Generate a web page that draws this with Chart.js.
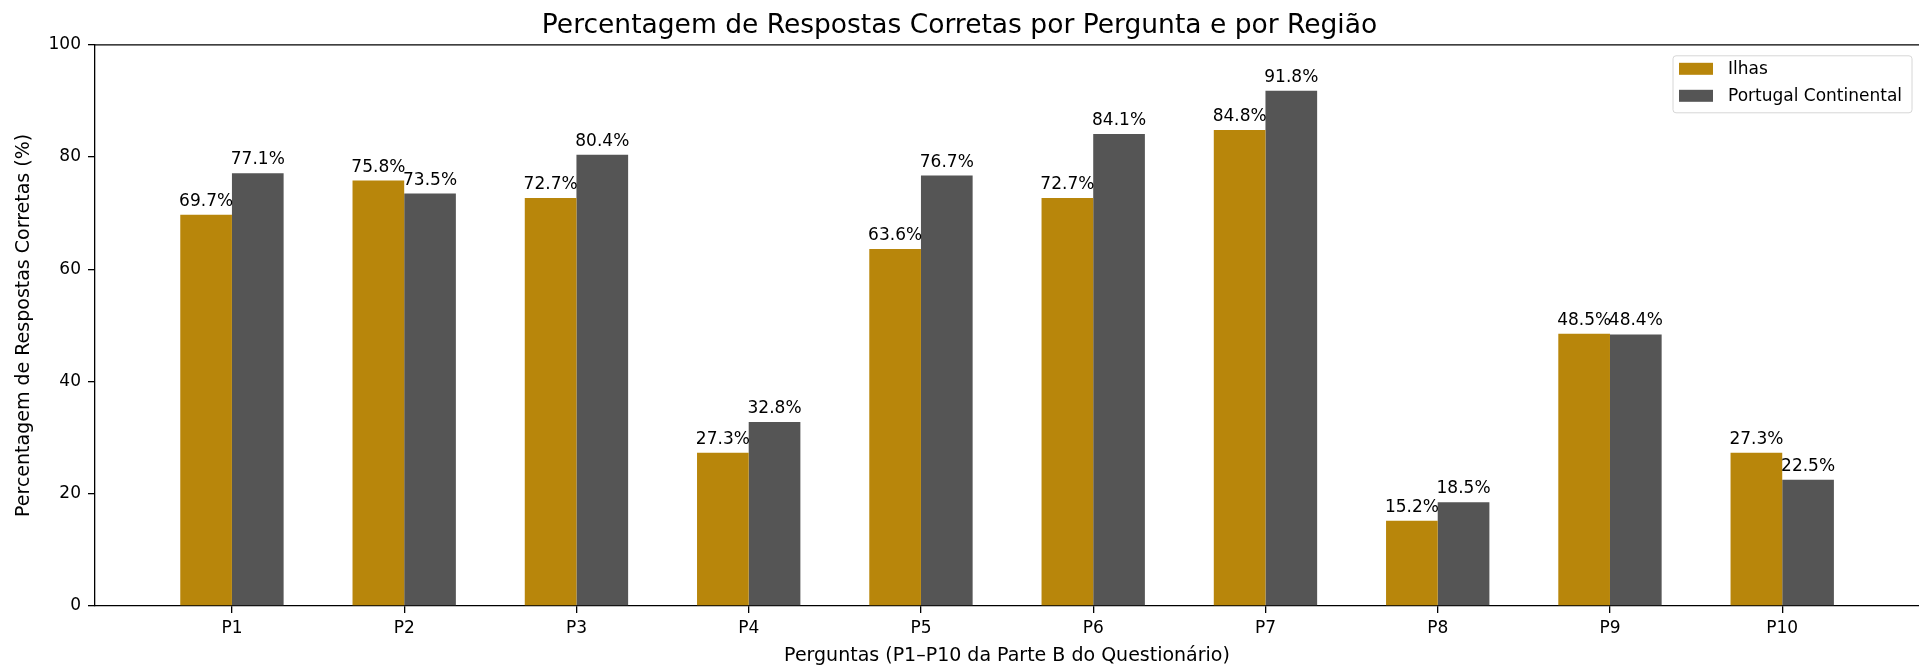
<!DOCTYPE html>
<html>
<head>
<meta charset="utf-8">
<script src="https://cdn.jsdelivr.net/npm/chart.js@4.4.1/dist/chart.umd.min.js"></script>
<style>
  html, body { margin: 0; padding: 0; background: #fff; }
  #wrap { width: 1919px; height: 667px; }
</style>
</head>
<body>
<div id="wrap"><canvas id="chart"></canvas></div>
<script>
const categories = ['P1', 'P2', 'P3', 'P4', 'P5', 'P6', 'P7', 'P8', 'P9', 'P10'];
const ilhas = [69.7, 75.8, 72.7, 27.3, 63.6, 72.7, 84.8, 15.2, 48.5, 27.3];
const continental = [77.1, 73.5, 80.4, 32.8, 76.7, 84.1, 91.8, 18.5, 48.4, 22.5];
const yTicks = [0, 20, 40, 60, 80, 100];

const FONT = 'DejaVu Sans';

// value labels above each bar
const barLabels = {
  id: 'barLabels',
  afterDatasetsDraw(chart) {
    const ctx = chart.ctx;
    ctx.save();
    ctx.font = '17px "' + FONT + '"';
    ctx.fillStyle = '#000';
    ctx.textAlign = 'center';
    ctx.textBaseline = 'alphabetic';
    chart.data.datasets.forEach((ds, i) => {
      chart.getDatasetMeta(i).data.forEach((bar, j) => {
        ctx.fillText(ds.data[j].y.toFixed(1) + '%', bar.x, bar.y - 9);
      });
    });
    ctx.restore();
  }
};

// matplotlib-like frame (right spine falls off the image) and legend box
const frameAndLegend = {
  id: 'frameAndLegend',
  afterDraw(chart) {
    const ctx = chart.ctx;
    const a = chart.chartArea;
    ctx.save();
    ctx.strokeStyle = '#000';
    ctx.lineWidth = 1.3;
    ctx.beginPath();
    ctx.moveTo(a.left, a.top);
    ctx.lineTo(chart.width, a.top);
    ctx.stroke();

    const bx = 1673, by = a.top + 11, bw = 239, bh = 57;
    ctx.fillStyle = 'rgba(255,255,255,0.8)';
    ctx.strokeStyle = '#d6d6d6';
    ctx.lineWidth = 1;
    ctx.beginPath();
    ctx.roundRect(bx, by, bw, bh, 3);
    ctx.fill();
    ctx.stroke();

    ctx.font = '17px "' + FONT + '"';
    ctx.textBaseline = 'middle';
    ctx.textAlign = 'left';
    chart.data.datasets.forEach((ds, i) => {
      const cy = by + 13 + i * 27;
      ctx.fillStyle = ds.backgroundColor;
      ctx.fillRect(bx + 6, cy - 6, 34, 12);
      ctx.fillStyle = '#000';
      ctx.fillText(ds.label, bx + 55, cy + 1);
    });
    ctx.restore();
  }
};

new Chart(document.getElementById('chart'), {
  type: 'bar',
  data: {
    datasets: [
      {
        label: 'Ilhas',
        data: ilhas.map((v, i) => ({ x: i, y: v })),
        backgroundColor: '#b8860b'
      },
      {
        label: 'Portugal Continental',
        data: continental.map((v, i) => ({ x: i, y: v })),
        backgroundColor: '#555555'
      }
    ]
  },
  options: {
    responsive: true,
    maintainAspectRatio: false,
    animation: false,
    layout: { padding: { left: 0, right: 0, top: 0, bottom: 0 } },
    datasets: {
      bar: { categoryPercentage: 0.6, barPercentage: 1.0 }
    },
    plugins: {
      legend: { display: false },
      tooltip: { enabled: false },
      title: {
        display: true,
        text: 'Percentagem de Respostas Corretas por Pergunta e por Região',
        color: '#000',
        font: { family: FONT, size: 26.5, weight: 'normal' },
        padding: { top: 10, bottom: 3 }
      }
    },
    scales: {
      x: {
        type: 'linear',
        min: -0.795,
        max: 9.794,
        offset: false,
        afterBuildTicks(scale) {
          scale.ticks = categories.map((c, i) => ({ value: i }));
        },
        afterFit(scale) { scale.height = 61; },
        ticks: {
          color: '#000',
          font: { family: FONT, size: 17 },
          padding: 5,
          maxRotation: 0,
          autoSkip: false,
          callback: (v) => categories[v]
        },
        grid: { offset: false, drawOnChartArea: false, drawTicks: true, tickLength: 7, color: '#000', lineWidth: 1.3 },
        border: { display: true, color: '#000', width: 1.3 },
        title: {
          display: true,
          text: 'Perguntas (P1–P10 da Parte B do Questionário)',
          color: '#000',
          font: { family: FONT, size: 19 },
          padding: { top: 0, bottom: 0 }
        }
      },
      y: {
        min: 0,
        max: 100,
        afterBuildTicks(scale) {
          scale.ticks = yTicks.map(v => ({ value: v }));
        },
        afterFit(scale) { scale.width = 95; },
        ticks: {
          color: '#000',
          font: { family: FONT, size: 17 },
          padding: 7
        },
        grid: { drawOnChartArea: false, drawTicks: true, tickLength: 7, color: '#000', lineWidth: 1.3 },
        border: { display: true, color: '#000', width: 1.3 },
        title: {
          display: true,
          text: 'Percentagem de Respostas Corretas (%)',
          color: '#000',
          font: { family: FONT, size: 19 },
          padding: { top: 13, bottom: 0 }
        }
      }
    }
  },
  plugins: [barLabels, frameAndLegend]
});
</script>
</body>
</html>
